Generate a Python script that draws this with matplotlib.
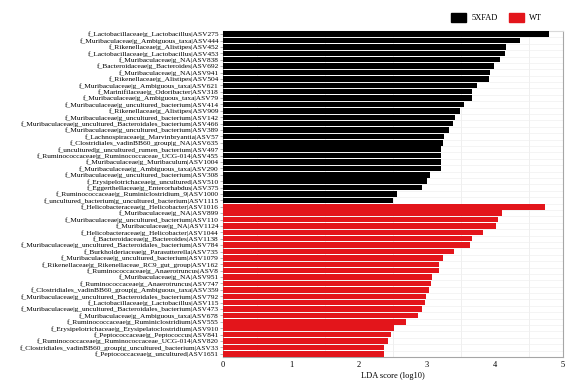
import matplotlib
matplotlib.use("Agg")
import matplotlib.pyplot as plt
import numpy as np

# LEfSe-style LDA bars, top to bottom
labels_5xfad = [
    "f_Lactobacillaceae|g_Lactobacillus|ASV275",
    "f_Muribaculaceae|g_Ambiguous_taxa|ASV444",
    "f_Rikenellaceae|g_Alistipes|ASV452",
    "f_Lactobacillaceae|g_Lactobacillus|ASV453",
    "f_Muribaculaceae|g_NA|ASV838",
    "f_Bacteroidaceae|g_Bacteroides|ASV692",
    "f_Muribaculaceae|g_NA|ASV941",
    "f_Rikenellaceae|g_Alistipes|ASV504",
    "f_Muribaculaceae|g_Ambiguous_taxa|ASV621",
    "f_Marinifilaceae|g_Odoribacter|ASV318",
    "f_Muribaculaceae|g_Ambiguous_taxa|ASV79",
    "f_Muribaculaceae|g_uncultured_bacterium|ASV414",
    "f_Rikenellaceae|g_Alistipes|ASV909",
    "f_Muribaculaceae|g_uncultured_bacterium|ASV142",
    "f_Muribaculaceae|g_uncultured_Bacteroidales_bacterium|ASV466",
    "f_Muribaculaceae|g_uncultured_bacterium|ASV389",
    "f_Lachnospiraceae|g_Marvinbryantia|ASV57",
    "f_Clostridiales_vadinBB60_group|g_NA|ASV635",
    "f_uncultured|g_uncultured_rumen_bacterium|ASV497",
    "f_Ruminococcaceae|g_Ruminococcaceae_UCG-014|ASV455",
    "f_Muribaculaceae|g_Muribaculum|ASV1004",
    "f_Muribaculaceae|g_Ambiguous_taxa|ASV290",
    "f_Muribaculaceae|g_uncultured_bacterium|ASV308",
    "f_Erysipelotrichaceae|g_uncultured|ASV510",
    "f_Eggerthellaceae|g_Enterorhabdus|ASV375",
    "f_Ruminococcaceae|g_Ruminiclostridium_9|ASV1000",
    "f_uncultured_bacterium|g_uncultured_bacterium|ASV1115",
]
lda_5xfad = [4.80, 4.37, 4.16, 4.14, 4.07, 3.99, 3.93, 3.91, 3.74, 3.66,
             3.66, 3.55, 3.48, 3.41, 3.38, 3.33, 3.25, 3.24, 3.21, 3.21,
             3.21, 3.21, 3.05, 3.00, 2.93, 2.56, 2.50]

labels_wt = [
    "f_Helicobacteraceae|g_Helicobacter|ASV1016",
    "f_Muribaculaceae|g_NA|ASV899",
    "f_Muribaculaceae|g_uncultured_bacterium|ASV110",
    "f_Muribaculaceae|g_NA|ASV1124",
    "f_Helicobacteraceae|g_Helicobacter|ASV1044",
    "f_Bacteroidaceae|g_Bacteroides|ASV1138",
    "f_Muribaculaceae|g_uncultured_Bacteroidales_bacterium|ASV784",
    "f_Burkholderiaceae|g_Parasutterella|ASV735",
    "f_Muribaculaceae|g_uncultured_bacterium|ASV1079",
    "f_Rikenellaceae|g_Rikenellaceae_RC9_gut_group|ASV162",
    "f_Ruminococcaceae|g_Anaerotruncus|ASV8",
    "f_Muribaculaceae|g_NA|ASV951",
    "f_Ruminococcaceae|g_Anaerotruncus|ASV747",
    "f_Clostridiales_vadinBB60_group|g_Ambiguous_taxa|ASV359",
    "f_Muribaculaceae|g_uncultured_Bacteroidales_bacterium|ASV792",
    "f_Lactobacillaceae|g_Lactobacillus|ASV115",
    "f_Muribaculaceae|g_uncultured_Bacteroidales_bacterium|ASV473",
    "f_Muribaculaceae|g_Ambiguous_taxa|ASV678",
    "f_Ruminococcaceae|g_Ruminiclostridium|ASV555",
    "f_Erysipelotrichaceae|g_Erysipelatoclostridium|ASV910",
    "f_Peptococcaceae|g_Peptococcus|ASV841",
    "f_Ruminococcaceae|g_Ruminococcaceae_UCG-014|ASV820",
    "f_Clostridiales_vadinBB60_group|g_uncultured_bacterium|ASV33",
    "f_Peptococcaceae|g_uncultured|ASV1651",
]
lda_wt = [4.73, 4.10, 4.04, 4.02, 3.83, 3.66, 3.63, 3.40, 3.24, 3.17,
          3.17, 3.08, 3.06, 3.03, 2.99, 2.97, 2.92, 2.86, 2.69, 2.51,
          2.47, 2.43, 2.37, 2.36]

groups = ["5XFAD", "WT"]
group_colors = {"5XFAD": "#000000", "WT": "#E3151B"}

plt.rcParams["font.family"] = ["Liberation Serif", "DejaVu Serif"]

labels = labels_5xfad + labels_wt
values = lda_5xfad + lda_wt
colors = [group_colors["5XFAD"]] * len(lda_5xfad) + [group_colors["WT"]] * len(lda_wt)
n = len(labels)
ypos = np.arange(n)[::-1]

fig = plt.figure(figsize=(5.81, 3.87), dpi=100)
ax = fig.add_axes([0.384, 0.0775, 0.585, 0.8425])

ax.barh(ypos, values, height=0.86, color=colors, edgecolor="none", zorder=3)

ax.set_ylim(-0.5, n - 0.5)
ax.set_xlim(0, 5)
ax.set_yticks(ypos)
ax.set_yticklabels(labels, fontsize=5.3)
ax.set_yticks(np.arange(-0.5, n, 1), minor=True)
ax.set_xticks([0, 1, 2, 3, 4, 5])
ax.set_xticks(np.arange(0, 5.01, 0.5), minor=True)
ax.tick_params(axis="y", which="major", length=2, width=0.5, color="#999999", pad=1)
ax.tick_params(axis="y", which="minor", length=0)
ax.tick_params(axis="x", which="both", length=0, labelsize=6, pad=3)

ax.grid(True, axis="x", which="minor", color="#ececec", linewidth=0.6, zorder=0)
ax.grid(True, axis="y", which="minor", color="#f0f0f0", linewidth=0.5, zorder=0)

for s in ax.spines.values():
    s.set_color("#a6a6a6")
    s.set_linewidth(0.8)
ax.spines["top"].set_color("#d9d9d9")

ax.set_xlabel("LDA score (log10)", fontsize=6, labelpad=2)

handles = [plt.Rectangle((0, 0), 1, 1, color=group_colors[g]) for g in groups]
fig.legend(handles, groups, loc="center", bbox_to_anchor=(0.855, 0.955), ncol=2,
           frameon=False, fontsize=6, handlelength=1.8, handleheight=1.4,
           columnspacing=1.4, handletextpad=0.6)

fig.savefig("out.png", dpi=100, facecolor="white")
